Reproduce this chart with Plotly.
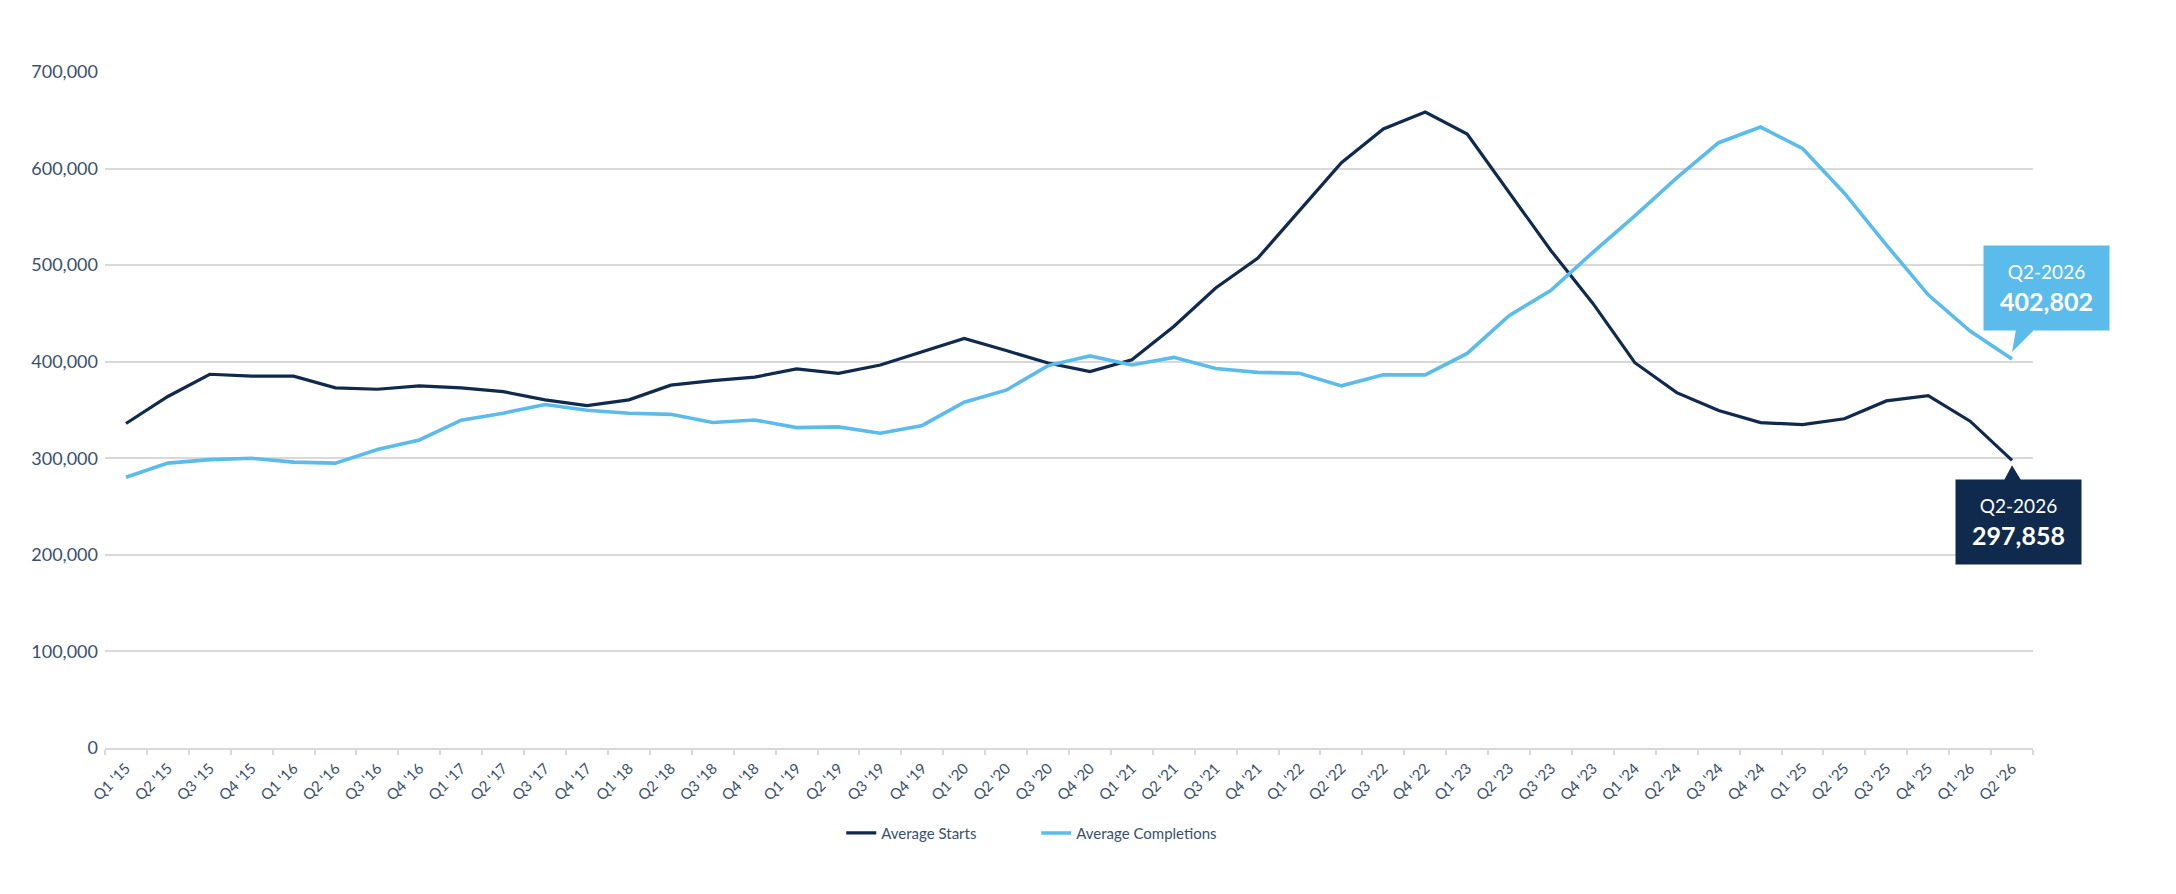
import plotly.graph_objects as go

# quarterly labels, Q1 2015 .. Q2 2026
quarters = [
    "Q1 '15", "Q2 '15", "Q3 '15", "Q4 '15",
    "Q1 '16", "Q2 '16", "Q3 '16", "Q4 '16",
    "Q1 '17", "Q2 '17", "Q3 '17", "Q4 '17",
    "Q1 '18", "Q2 '18", "Q3 '18", "Q4 '18",
    "Q1 '19", "Q2 '19", "Q3 '19", "Q4 '19",
    "Q1 '20", "Q2 '20", "Q3 '20", "Q4 '20",
    "Q1 '21", "Q2 '21", "Q3 '21", "Q4 '21",
    "Q1 '22", "Q2 '22", "Q3 '22", "Q4 '22",
    "Q1 '23", "Q2 '23", "Q3 '23", "Q4 '23",
    "Q1 '24", "Q2 '24", "Q3 '24", "Q4 '24",
    "Q1 '25", "Q2 '25", "Q3 '25", "Q4 '25",
    "Q1 '26", "Q2 '26",
]

avg_starts = [
    336000, 364000, 387000, 385000,
    385000, 373000, 371500, 375000,
    373000, 369000, 360500, 354500,
    360500, 375700, 380500, 384000,
    392500, 388000, 396600, 410600,
    424000, 411600, 398600, 389700,
    402000, 436500, 476300, 507000,
    556500, 606000, 641000, 658500,
    635700, 575500, 515000, 460400,
    399000, 368000, 349500, 337000,
    334800, 340900, 359400, 364800,
    338400, 297858,
]

avg_completions = [
    280400, 295000, 298600, 300000,
    296000, 295000, 309000, 319000,
    339500, 346700, 355700, 349800,
    346700, 345500, 337000, 339700,
    331800, 332500, 326000, 334000,
    358000, 370500, 396000, 406000,
    396600, 404500, 393000, 389000,
    388000, 375000, 386400, 386400,
    408600, 447600, 474000, 513300,
    551000, 590400, 626800, 643000,
    620800, 574500, 521000, 469300,
    431800, 402802,
]

DARK = "#0f2a4c"
LIGHT = "#5bbcec"
TEXT = "#3b4f6e"
GRID = "#d9d9d9"
FONT = "Lato, 'Open Sans', sans-serif"

fig = go.Figure()
fig.add_trace(go.Scatter(x=quarters, y=avg_starts, mode="lines", name="Average Starts",
                         line=dict(color=DARK, width=3.2)))
fig.add_trace(go.Scatter(x=quarters, y=avg_completions, mode="lines", name="Average Completions",
                         line=dict(color=LIGHT, width=3.6)))

last = quarters[-1]


def callout_text(v):
    return "<span style='font-size:19px'>Q2-2026</span><br><b>%s</b>" % f"{v:,}"


# callout boxes for the last quarter
fig.add_annotation(x=last, y=avg_completions[-1], xref="x", yref="y",
                   text=callout_text(avg_completions[-1]),
                   showarrow=False, xshift=34, yshift=71, width=125, height=84,
                   bgcolor=LIGHT, borderpad=0, align="center",
                   font=dict(family=FONT, size=25, color="white"))
fig.add_annotation(x=last, y=avg_starts[-1], xref="x", yref="y",
                   text=callout_text(avg_starts[-1]),
                   showarrow=False, xshift=6, yshift=-62, width=125, height=84,
                   bgcolor=DARK, borderpad=0, align="center",
                   font=dict(family=FONT, size=25, color="white"))

# little pointers from the boxes to the line ends
fig.add_shape(type="path", xref="x", yref="y", xsizemode="pixel", ysizemode="pixel",
              xanchor=last, yanchor=avg_completions[-1],
              path="M 4,30 L 23,30 L 0,7 Z", fillcolor=LIGHT, line=dict(width=0))
fig.add_shape(type="path", xref="x", yref="y", xsizemode="pixel", ysizemode="pixel",
              xanchor=last, yanchor=avg_starts[-1],
              path="M -8,-20 L 9,-20 L 0,-5 Z", fillcolor=DARK, line=dict(width=0))

# page body has an 8px margin, so the figure is sized to fit inside it
fig.update_layout(
    width=2160, height=878,
    margin=dict(l=97, r=135, t=64, b=138, autoexpand=False),
    paper_bgcolor="white", plot_bgcolor="white",
    font=dict(family=FONT, color=TEXT),
    showlegend=True,
    legend=dict(orientation="h", x=0.483, xanchor="center", y=-0.126, yanchor="middle",
                font=dict(size=15, color=TEXT), entrywidth=150, bgcolor="rgba(0,0,0,0)"),
    hovermode=False,
)
fig.update_xaxes(type="category", range=[-0.5, len(quarters) - 0.5], automargin=False,
                 showgrid=False, showline=True, linecolor=GRID, linewidth=1.5,
                 ticks="outside", ticklen=5, tickcolor=GRID, tickwidth=1.5, tickson="boundaries",
                 tickangle=-45, tickfont=dict(size=15, color=TEXT), ticklabelstandoff=4)
fig.update_yaxes(range=[0, 700000], dtick=100000, tickformat=",", automargin=False,
                 showgrid=True, gridcolor=GRID, gridwidth=1.5, zeroline=False,
                 showline=False, ticks="", ticklabelstandoff=6,
                 tickfont=dict(size=18, color=TEXT))

fig.write_html("out.html")
